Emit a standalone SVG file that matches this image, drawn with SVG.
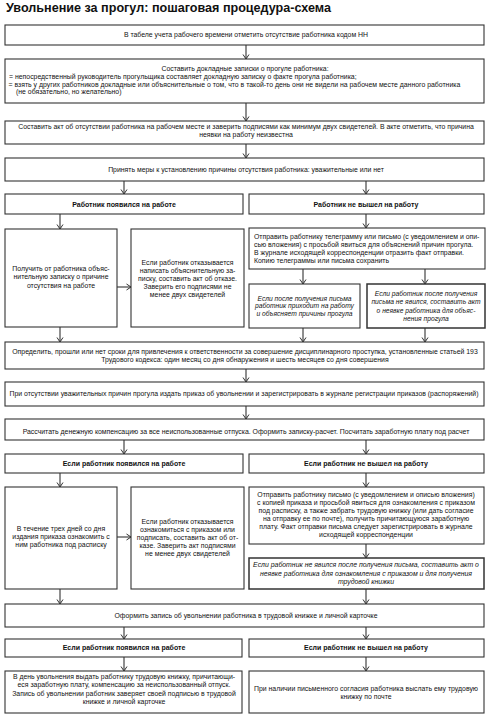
<svg xmlns="http://www.w3.org/2000/svg" width="490" height="716" viewBox="0 0 490 716">
<defs>
<marker id="ah" markerUnits="userSpaceOnUse" markerWidth="8" markerHeight="8" viewBox="0 0 8 8" refX="6" refY="4" orient="auto">
<path d="M1.5,1 L6,4 L1.5,7" fill="none" stroke="#333" stroke-width="1"/>
</marker>
<style>
rect{fill:#fff;stroke:#333;stroke-width:1.1}
rect.b{stroke-width:1.5}
text{font-family:"Liberation Sans",Arial,sans-serif;font-size:6.9px;fill:#111}
.c{text-anchor:middle}
.h{font-weight:bold;font-size:7px}
.i{font-style:italic}
.s{font-size:6.7px}
.t{font-weight:bold;font-size:12.6px}
#conn line{stroke:#333;stroke-width:1.1;marker-end:url(#ah)}
</style>
</defs>
<rect x="0" y="0" width="490" height="716" style="fill:#fff;stroke:none"/>
<text class="t" x="6" y="12">Увольнение за прогул: пошаговая процедура-схема</text>

<g id="conn">
<line x1="246" y1="45" x2="246" y2="59"/>
<line x1="246" y1="103" x2="246" y2="121"/>
<line x1="246" y1="144" x2="246" y2="158"/>
<line x1="124" y1="181" x2="124" y2="194"/>
<line x1="366" y1="181" x2="366" y2="194"/>
<line x1="60" y1="214" x2="60" y2="229"/>
<line x1="366" y1="214" x2="366" y2="228"/>
<line x1="117" y1="287" x2="131" y2="287"/>
<line x1="303" y1="269" x2="303" y2="284"/>
<line x1="425" y1="269" x2="425" y2="284"/>
<line x1="60" y1="327" x2="60" y2="342"/>
<line x1="303" y1="328" x2="303" y2="342"/>
<line x1="425" y1="328" x2="425" y2="342"/>
<line x1="246" y1="369" x2="246" y2="382"/>
<line x1="246" y1="406" x2="246" y2="419"/>
<line x1="124" y1="440" x2="124" y2="454"/>
<line x1="366" y1="440" x2="366" y2="454"/>
<line x1="60" y1="473" x2="60" y2="487"/>
<line x1="366" y1="473" x2="366" y2="487"/>
<line x1="117" y1="537" x2="131" y2="537"/>
<line x1="366" y1="544" x2="366" y2="558"/>
<line x1="60" y1="589" x2="60" y2="604"/>
<line x1="366" y1="589" x2="366" y2="604"/>
<line x1="124" y1="627" x2="124" y2="639"/>
<line x1="366" y1="627" x2="366" y2="639"/>
<line x1="124" y1="657" x2="124" y2="671"/>
<line x1="366" y1="657" x2="366" y2="671"/>
</g>

<g id="n1"><rect x="5" y="25" width="479" height="20"/>
<text class="c" x="246" y="37.3">В табеле учета рабочего времени отметить отсутствие работника кодом НН</text></g>

<g id="n2"><rect x="5" y="59" width="479" height="44"/>
<text class="c" x="245" y="71.3">Составить докладные записки о прогуле работника:</text>
<text x="9" y="79">=  непосредственный руководитель прогульщика составляет докладную записку о факте прогула работника;</text>
<text x="8.5" y="86.6">= взять у других работников докладные или объяснительные о том, что в такой-то день они не видели на рабочем месте данного работника</text>
<text x="16" y="94">(не обязательно, но желательно)</text></g>

<g id="n3"><rect x="5" y="121" width="479" height="23"/>
<text class="c" x="246" y="129">Составить акт об отсутствии работника на рабочем месте и заверить подписями как минимум двух свидетелей. В акте отметить, что причина</text>
<text class="c" x="246" y="137.3">неявки на работу неизвестна</text></g>

<g id="n4"><rect x="5" y="158" width="479" height="23"/>
<text class="c" x="246" y="171.6">Принять меры к установлению причины отсутствия работника: уважительные или нет</text></g>

<g id="n5"><rect x="5" y="194" width="238" height="20"/>
<text class="c h" x="124" y="206.6">Работник появился на работе</text></g>

<g id="n6"><rect x="249" y="194" width="235" height="20"/>
<text class="c h" x="366" y="206.6">Работник не вышел на работу</text></g>

<g id="n7"><rect x="5" y="229" width="112" height="98"/>
<text class="c" x="61" y="270.6">Получить от работника объяс-</text>
<text class="c" x="61" y="279.2">нительную записку о причине</text>
<text class="c" x="61" y="287.8">отсутствия на работе</text></g>

<g id="n8"><rect x="131" y="229" width="113" height="98"/>
<text class="c" x="187.5" y="265">Если работник отказывается</text>
<text class="c" x="187.5" y="273">написать объяснительную за-</text>
<text class="c" x="187.5" y="281">писку, составить акт об отказе.</text>
<text class="c" x="187.5" y="289">Заверить его подписями не</text>
<text class="c" x="187.5" y="297">менее двух свидетелей</text></g>

<g id="n9"><rect x="249" y="228" width="236" height="41"/>
<text x="254" y="239.1">Отправить работнику телеграмму или письмо (с уведомлением и опи-</text>
<text x="254" y="246.9">сью вложения) с просьбой явиться для объяснений причин прогула.</text>
<text x="254" y="254.7">В журнале исходящей корреспонденции отразить факт отправки.</text>
<text x="254" y="262.5">Копию телеграммы или письма сохранить</text></g>

<g id="n10"><rect x="249" y="284" width="111" height="44"/>
<text class="c i s" x="304.5" y="300.6">Если после получения письма</text>
<text class="c i s" x="304.5" y="308.4">работник приходит на работу</text>
<text class="c i s" x="304.5" y="316.2">и объясняет причины прогула</text></g>

<g id="n11"><rect class="b" x="367" y="284" width="118" height="44"/>
<text class="c i s" x="426" y="296.3">Если работник после получения</text>
<text class="c i s" x="426" y="304.4">письма не явился, составить акт</text>
<text class="c i s" x="426" y="312.5">о неявке работника для объяс-</text>
<text class="c i s" x="426" y="320.6">нения прогула</text></g>

<g id="n12"><rect x="5" y="342" width="479" height="27"/>
<text class="c" x="245" y="354">Определить, прошли или нет сроки для привлечения к ответственности за совершение дисциплинарного проступка, установленные статьей 193</text>
<text class="c" x="245" y="362.3">Трудового кодекса: один месяц со дня обнаружения и шесть месяцев со дня совершения</text></g>

<g id="n13"><rect x="5" y="382" width="479" height="24"/>
<text class="c" x="244" y="396.3">При отсутствии уважительных причин прогула издать приказ об увольнении и зарегистрировать в журнале регистрации приказов (распоряжений)</text></g>

<g id="n14"><rect x="5" y="419" width="479" height="21"/>
<text class="c" x="246" y="434">Рассчитать денежную компенсацию за все неиспользованные отпуска. Оформить записку-расчет. Посчитать заработную плату под расчет</text></g>

<g id="n15"><rect x="5" y="454" width="238" height="19"/>
<text class="c h" x="124" y="466">Если работник появился на работе</text></g>

<g id="n16"><rect x="249" y="454" width="235" height="19"/>
<text class="c h" x="366" y="466">Если работник не вышел на работу</text></g>

<g id="n17"><rect x="5" y="487" width="112" height="102"/>
<text class="c" x="61" y="530.6">В течение трех дней со дня</text>
<text class="c" x="61" y="539">издания приказа ознакомить с</text>
<text class="c" x="61" y="547.3">ним работника под расписку</text></g>

<g id="n18"><rect x="131" y="487" width="113" height="102"/>
<text class="c" x="187.5" y="524">Если работник отказывается</text>
<text class="c" x="187.5" y="532.1">ознакомиться с приказом или</text>
<text class="c" x="187.5" y="540.2">подписать, составить акт об от-</text>
<text class="c" x="187.5" y="548.3">казе. Заверить акт подписями</text>
<text class="c" x="187.5" y="556.4">не менее двух свидетелей</text></g>

<g id="n19"><rect x="249" y="487" width="235" height="57"/>
<text class="c" x="366" y="497.4">Отправить работнику письмо (с уведомлением и описью вложения)</text>
<text class="c" x="366" y="505.2">с копией приказа и просьбой явиться для ознакомления с приказом</text>
<text class="c" x="366" y="513.1">под расписку, а также забрать трудовую книжку (или дать согласие</text>
<text class="c" x="366" y="520.9">на отправку ее по почте), получить причитающуюся заработную</text>
<text class="c" x="366" y="528.8">плату. Факт отправки письма следует зарегистрировать в журнале</text>
<text class="c" x="366" y="536.6">исходящей корреспонденции</text></g>

<g id="n20"><rect class="b" x="249" y="558" width="235" height="31"/>
<text class="c i" x="366" y="567.3">Если работник не явился после получения письма, составить акт о</text>
<text class="c i" x="366" y="575.6">неявке работника для ознакомления с приказом и для получения</text>
<text class="c i" x="366" y="584">трудовой книжки</text></g>

<g id="n21"><rect x="5" y="604" width="479" height="23"/>
<text class="c" x="246" y="618">Оформить запись об увольнении работника в трудовой книжке и личной карточке</text></g>

<g id="n22"><rect x="5" y="639" width="237" height="18"/>
<text class="c h" x="124" y="650.4">Если работник появился на работе</text></g>

<g id="n23"><rect x="249" y="639" width="235" height="18"/>
<text class="c h" x="366" y="650.4">Если работник не вышел на работу</text></g>

<g id="n24"><rect x="5" y="671" width="237" height="42"/>
<text class="c" x="124" y="679">В день увольнения выдать работнику трудовую книжку, причитающи-</text>
<text class="c" x="124" y="687.3">еся заработную плату, компенсацию за неиспользованный отпуск.</text>
<text class="c" x="124" y="695.6">Запись об увольнении работник заверяет своей подписью в трудовой</text>
<text class="c" x="124" y="703.9">книжке и личной карточке</text></g>

<g id="n25"><rect x="249" y="671" width="235" height="42"/>
<text class="c" x="366" y="691.3">При наличии письменного согласия работника выслать ему трудовую</text>
<text class="c" x="366" y="699">книжку по почте</text></g>
</svg>
